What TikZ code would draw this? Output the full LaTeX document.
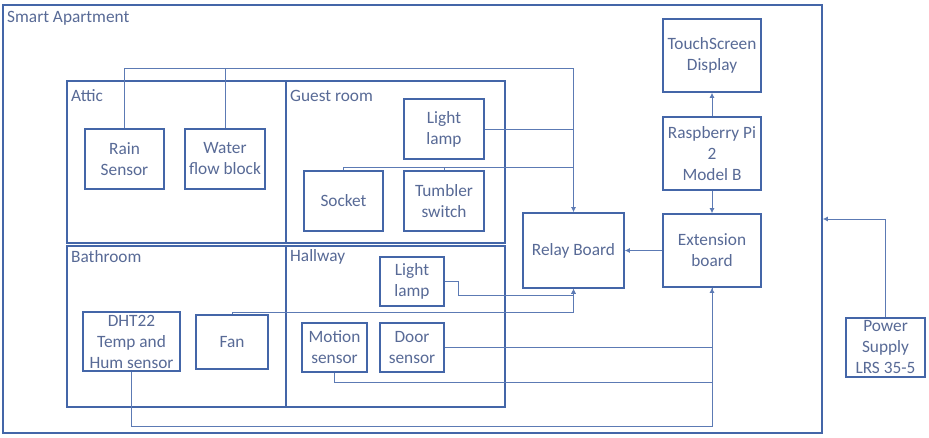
\documentclass[tikz,border=0pt]{standalone}
\usepackage{fontspec}
\setmainfont{Carlito}
\usetikzlibrary{arrows.meta}
\definecolor{txtc}{RGB}{88,106,150}
\definecolor{boxc}{RGB}{68,102,168}
\definecolor{linec}{RGB}{92,122,180}
\tikzset{
  box/.style={draw=boxc, line width=1.6pt, rectangle, inner sep=1pt, align=center,
    text=txtc, font=\fontsize{17.3}{21}\selectfont},
  room/.style={draw=boxc, line width=1.6pt},
  roomlabel/.style={anchor=west, inner sep=0pt, text=txtc, font=\fontsize{17.3}{21}\selectfont},
  conn/.style={draw=linec, line width=0.9pt},
  arr/.style={conn, -{Latex[length=5pt,width=5pt]}}
}
\begin{document}
\begin{tikzpicture}[x=1pt,y=-1pt]
\useasboundingbox (0,0) rectangle (929,438);
\fill[white] (0,0) rectangle (929,438);
% outer frame
\node[box, minimum width=819, minimum height=428] (apt) at (412.5,219) {};
\node[roomlabel] (aptlabel) at (7,18.5) {Smart Apartment};
% rooms
\draw[room] (67,81) rectangle (286,243);
\draw[room] (286,81) rectangle (505,243);
\draw[room] (67,246) rectangle (286,407);
\draw[room] (286,246) rectangle (505,407);
\node[roomlabel] (atticl) at (71,96) {Attic};
\node[roomlabel] (guestl) at (290,96) {Guest room};
\node[roomlabel] (bathl) at (71,257) {Bathroom};
\node[roomlabel] (halll) at (290,257) {Hallway};
% devices
\node[box, minimum width=79, minimum height=60] (rain) at (124.5,159) {Rain\\Sensor};
\node[box, minimum width=80, minimum height=60] (water) at (225,159) {Water\\flow block};
\node[box, minimum width=80, minimum height=60] (glamp) at (444,129) {Light\\lamp};
\node[box, minimum width=79, minimum height=60] (socket) at (343.5,201) {Socket};
\node[box, minimum width=80, minimum height=60] (tumbler) at (444,201) {Tumbler\\switch};
\node[box, minimum width=64, minimum height=49] (hlamp) at (412,281.5) {Light\\lamp};
\node[box, minimum width=65, minimum height=49] (motion) at (334.5,347.5) {Motion\\sensor};
\node[box, minimum width=64, minimum height=49] (door) at (412,347.5) {Door\\sensor};
\node[box, minimum width=72, minimum height=54] (fan) at (232,342) {Fan};
\node[box, minimum width=97, minimum height=59] (dht) at (131.5,341.5) {DHT22\\Temp and\\Hum sensor};
\node[box, minimum width=101, minimum height=75] (relay) at (573.5,250.5) {Relay Board};
\node[box, minimum width=98, minimum height=73] (ext) at (712,250.5) {Extension\\board};
\node[box, minimum width=98, minimum height=73] (rpi) at (712,153.5) {Raspberry Pi\\2\\Model B};
\node[box, minimum width=98, minimum height=73] (touch) at (712,55.5) {TouchScreen\\Display};
\node[box, minimum width=79, minimum height=59] (power) at (885.5,347.5) {Power\\Supply\\LRS 35-5};
% coordinates
\coordinate (topj) at (573.5,68);
\coordinate (sockj) at (573.5,167);
\coordinate (hl1) at (458,281.5);
\coordinate (hl2) at (458,295);
\coordinate (fanj) at (232,312);
\coordinate (dhtj) at (131.5,426);
\coordinate (motj) at (334.5,382);
\coordinate (pwrj) at (885.5,219);
% connectors
\draw[arr] (rain.north) |- (topj) -- (relay.north);
\draw[conn] (water.north) -- (water.north |- topj);
\draw[conn] (glamp.east) -- (glamp.east -| relay.north);
\draw[conn] (socket.north) |- (sockj);
\draw[conn] (tumbler.north) -- (tumbler.north |- sockj);
\draw[arr] (hlamp.east) -- (hl1) -- (hl2) -| (relay.south);
\draw[arr] (fan.north) -- (fanj) -| (relay.south);
\draw[arr] (dht.south) -- (dhtj) -| (ext.south);
\draw[conn] (motion.south) -- (motj) -| (ext.south);
\draw[conn] (door.east) -- (door.east -| ext.south);
\draw[arr] (ext.west |- relay.east) -- (relay.east);
\draw[arr] (rpi.south) -- (ext.north);
\draw[arr] (rpi.north) -- (touch.south);
\draw[arr] (power.north) -- (pwrj) -- (pwrj -| apt.east);
\end{tikzpicture}
\end{document}
